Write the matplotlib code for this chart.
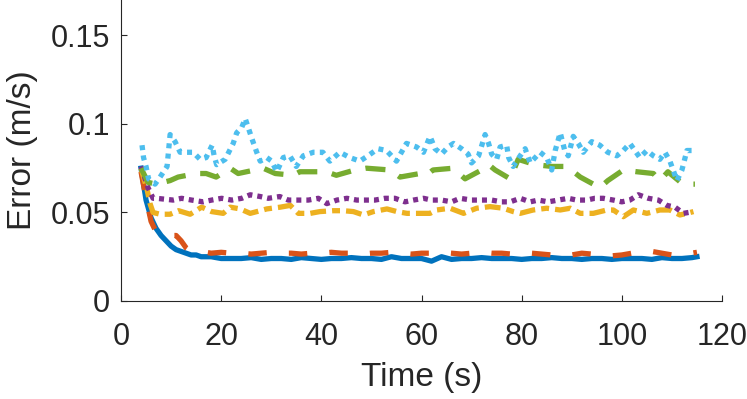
import matplotlib
matplotlib.use("Agg")
import matplotlib.pyplot as plt

plt.rcParams['font.family'] = ['Liberation Sans', 'DejaVu Sans']

# ---- data ----
t_blue = [4, 5, 6, 7, 8, 9, 10, 11, 12, 13, 14, 15, 16, 18, 20, 22, 24, 26, 28, 30,
          32, 34, 36, 38, 40, 42, 44, 46, 48, 50, 52, 54, 56, 58, 60, 62, 64, 66, 68, 70,
          72, 74, 76, 78, 80, 82, 84, 86, 88, 90, 92, 94, 96, 98, 100, 102, 104, 106, 108, 110,
          112, 114, 115]
v_blue = [0.075, 0.057, 0.047, 0.041, 0.037, 0.034, 0.031, 0.029, 0.028, 0.027, 0.026, 0.026, 0.025, 0.025, 0.024, 0.024, 0.024, 0.0245, 0.0235, 0.024,
          0.024, 0.0235, 0.0245, 0.024, 0.0235, 0.024, 0.024, 0.0245, 0.024, 0.024, 0.0235, 0.025, 0.024, 0.024, 0.024, 0.0225, 0.025, 0.0235, 0.024, 0.024,
          0.0245, 0.024, 0.024, 0.024, 0.0235, 0.024, 0.024, 0.0245, 0.024, 0.024, 0.0235, 0.024, 0.024, 0.0235, 0.024, 0.024, 0.024, 0.0235, 0.0245, 0.024,
          0.024, 0.0245, 0.025]

t_orange = [4, 5, 6, 7, 8, 9, 10, 11, 12, 13, 14,
            16, 18, 20, 22, 24, 26, 28, 30, 32, 34, 36, 38, 40, 42, 44, 46, 48, 50, 52, 54, 56, 58, 60,
            62, 64, 66, 68, 70, 72, 74, 76, 78, 80, 82, 84, 86, 88, 90, 92, 94, 96, 98, 100, 102, 104,
            106, 108, 110, 112, 114, 115]
v_orange = [0.073, 0.058, 0.045, 0.039, 0.038, 0.038, 0.037, 0.037, 0.034, 0.030, 0.028,
            0.028, 0.027, 0.0275, 0.027, 0.027, 0.0265, 0.027, 0.0275, 0.027, 0.027, 0.0265, 0.027, 0.027, 0.0275, 0.027, 0.027, 0.0265, 0.027, 0.027, 0.0275, 0.027, 0.0265, 0.027,
            0.027, 0.0275, 0.027, 0.0265, 0.027, 0.0275, 0.027, 0.027, 0.0265, 0.027, 0.027, 0.0265, 0.026, 0.0255, 0.026, 0.027, 0.0265, 0.026, 0.0255, 0.026, 0.027, 0.0275,
            0.028, 0.027, 0.026, 0.0265, 0.027, 0.0275]

t_yellow = [4, 5.2, 5.8, 6.4, 7.8, 9.8, 11.5, 13.8, 16.1, 18.1, 20.4, 21.8, 23.8, 25.8, 27.8, 29.1,
            31.8, 33.8, 35.4, 37.8, 39.7, 42.4, 44.4, 46.4, 48.4, 50.4, 53.1, 55.1, 57.1, 59.7, 61.7,
            63.0, 65.7, 68.4, 71.0, 73.7, 76.3, 78.3, 79.7, 82.3, 85.0, 87.7, 89.7, 91.7, 94.3, 97.0,
            98.3, 100.3, 102.3, 105.0, 107.6, 109.6, 111.6, 113.0, 114.3]
v_yellow = [0.075, 0.063, 0.055, 0.050, 0.049, 0.049, 0.051, 0.049, 0.053, 0.0505, 0.0495, 0.053, 0.052, 0.0495, 0.051, 0.052,
            0.053, 0.054, 0.0495, 0.0495, 0.0505, 0.051, 0.051, 0.0505, 0.0486, 0.0505, 0.052, 0.0505, 0.0495, 0.0495, 0.0495,
            0.0514, 0.0524, 0.0495, 0.0524, 0.0533, 0.0524, 0.0505, 0.0495, 0.0514, 0.0524, 0.0514, 0.0524, 0.0495, 0.0495, 0.0514,
            0.0514, 0.0476, 0.0514, 0.0495, 0.0514, 0.0514, 0.0486, 0.0495, 0.0505]

t_purple = [4, 5.4, 6.4, 7.1, 10.4, 12.1, 14.1, 16.4, 18.1, 20.1, 22.1, 24.1, 25.8, 27.8, 29.4, 31.7,
            33.4, 35.4, 37.4, 39.4, 41.1, 43.1, 45.1, 47.1, 49.1, 50.7, 52.7, 54.7, 56.7, 58.4, 60.4,
            62.0, 64.0, 66.0, 67.7, 70.0, 72.0, 74.0, 76.0, 77.7, 79.7, 81.7, 83.3, 85.3, 87.3, 89.3,
            91.0, 93.0, 94.6, 96.3, 98.3, 100.0, 101.6, 103.3, 105.3, 107.3, 109.0, 110.6, 112.3, 114.3]
v_purple = [0.076, 0.064, 0.058, 0.058, 0.057, 0.058, 0.057, 0.056, 0.057, 0.058, 0.057, 0.058, 0.060, 0.059, 0.058, 0.059,
            0.057, 0.057, 0.057, 0.058, 0.055, 0.057, 0.058, 0.057, 0.057, 0.057, 0.058, 0.058, 0.056, 0.057, 0.058,
            0.057, 0.057, 0.056, 0.058, 0.057, 0.057, 0.057, 0.056, 0.056, 0.058, 0.056, 0.057, 0.056, 0.057, 0.058,
            0.057, 0.057, 0.058, 0.058, 0.057, 0.056, 0.057, 0.060, 0.058, 0.057, 0.054, 0.053, 0.0495, 0.0505]

t_green = [4, 5.4, 7, 9.8, 11.4, 15, 17, 19, 21.8, 23.4, 28.4, 30.8, 34.4, 35.7, 41, 43, 46.7, 49,
           53.7, 55.7, 59.7, 61, 62.3, 66.3, 68.7, 72, 73.4, 74.7, 77.7, 79.3, 82.7, 86, 89, 91.7,
           95.6, 97.2, 100.3, 103, 106.3, 107.6, 109.2, 112.2, 114.6]
v_green = [0.075, 0.067, 0.066, 0.068, 0.070, 0.072, 0.072, 0.070, 0.075, 0.072, 0.075, 0.072, 0.071, 0.073, 0.073, 0.071, 0.074, 0.075,
           0.074, 0.070, 0.072, 0.071, 0.074, 0.075, 0.069, 0.074, 0.077, 0.074, 0.069, 0.080, 0.077, 0.076, 0.076, 0.070,
           0.064, 0.068, 0.074, 0.073, 0.072, 0.068, 0.073, 0.066, 0.066]

t_lblue = [4.2, 4.5, 5.0, 5.5, 6.8, 7.8, 9.2, 9.8, 10.8, 11.8, 12.8, 14.4, 15.8, 17.0, 18.2, 18.6, 19.1, 20.8,
           22.4, 23.1, 24.1, 24.8, 25.4, 26.1, 27.1, 27.8, 29.1, 30.1, 31.1, 32.4, 33.7, 35, 36.4, 38.4,
           40.3, 41.7, 43.7, 45.7, 47.7, 49.3, 51.3, 53, 55, 57, 59, 60.4, 61.7, 62.7, 64, 65.3, 66.4,
           68, 69.3, 70, 71.4, 72.7, 73.4, 74, 75, 75.7, 77, 77.4, 78.3, 79.7, 80.7, 81.7, 83.7, 85,
           86, 86.7, 87.3, 87.7, 88.6, 89.3, 90.3, 91.3, 92.3, 94, 95.6, 97.2, 99, 100.3, 101.6, 103.6,
           105, 106.3, 107.6, 108.6, 109.6, 111, 112, 113, 114.3]
v_lblue = [0.088, 0.081, 0.076, 0.069, 0.066, 0.070, 0.076, 0.094, 0.090, 0.084, 0.084, 0.084, 0.080, 0.081, 0.088, 0.082, 0.077, 0.080,
           0.089, 0.095, 0.098, 0.103, 0.098, 0.092, 0.084, 0.079, 0.081, 0.079, 0.073, 0.081, 0.082, 0.076, 0.082, 0.084,
           0.084, 0.079, 0.084, 0.081, 0.079, 0.082, 0.086, 0.085, 0.079, 0.089, 0.087, 0.084, 0.093, 0.086, 0.083, 0.087, 0.089,
           0.086, 0.083, 0.078, 0.082, 0.094, 0.089, 0.083, 0.080, 0.087, 0.088, 0.081, 0.076, 0.082, 0.086, 0.078, 0.084, 0.081,
           0.074, 0.085, 0.091, 0.095, 0.085, 0.082, 0.093, 0.089, 0.084, 0.090, 0.088, 0.084, 0.082, 0.085, 0.089, 0.081,
           0.085, 0.082, 0.080, 0.084, 0.079, 0.068, 0.074, 0.085, 0.085]

x_ticks = [0, 20, 40, 60, 80, 100, 120]
y_ticks = [0, 0.05, 0.1, 0.15]
y_tick_labels = ['0', '0.05', '0.1', '0.15']

# ---- figure ----
fig = plt.figure(figsize=(7.47, 3.99), dpi=100)
ax = fig.add_axes([121 / 747, 98 / 399, 601 / 747, 301 / 399])

lw = 3.8
ax.plot(t_blue, v_blue, color='#0072BD', lw=lw, ls='-')
ax.plot(t_orange, v_orange, color='#D95319', lw=lw, ls=(0, (3.5, 4.2)))
ax.plot(t_yellow, v_yellow, color='#EDB120', lw=lw, ls=(0, (3.0, 1.15, 1.5, 1.15)))
ax.plot(t_purple, v_purple, color='#7E2F8E', lw=lw, ls=(0, (0.95, 0.95)))
ax.plot(t_green, v_green, color='#77AC30', lw=lw, ls=(0, (3.8, 2.8)))
ax.plot(t_lblue, v_lblue, color='#4DBEEE', lw=lw, ls=(0, (0.95, 1.0)))

ax.set_xlim(0, 120)
ax.set_ylim(0, 0.17)
ax.set_xticks(x_ticks)
ax.set_yticks(y_ticks)
ax.set_yticklabels(y_tick_labels)

for s in ['top', 'right']:
    ax.spines[s].set_visible(False)
for s in ['left', 'bottom']:
    ax.spines[s].set_color('#262626')
    ax.spines[s].set_linewidth(0.8)

ax.tick_params(direction='in', length=4.3, width=0.8, colors='#262626',
               labelsize=22, labelcolor='#262626')
ax.tick_params(axis='x', pad=15)
ax.tick_params(axis='y', pad=8)

ax.set_xlabel('Time (s)', fontsize=24, color='#262626', labelpad=7)
ax.set_ylabel('Error (m/s)', fontsize=24, color='#262626', labelpad=9)

fig.savefig('out.png', dpi=100)
